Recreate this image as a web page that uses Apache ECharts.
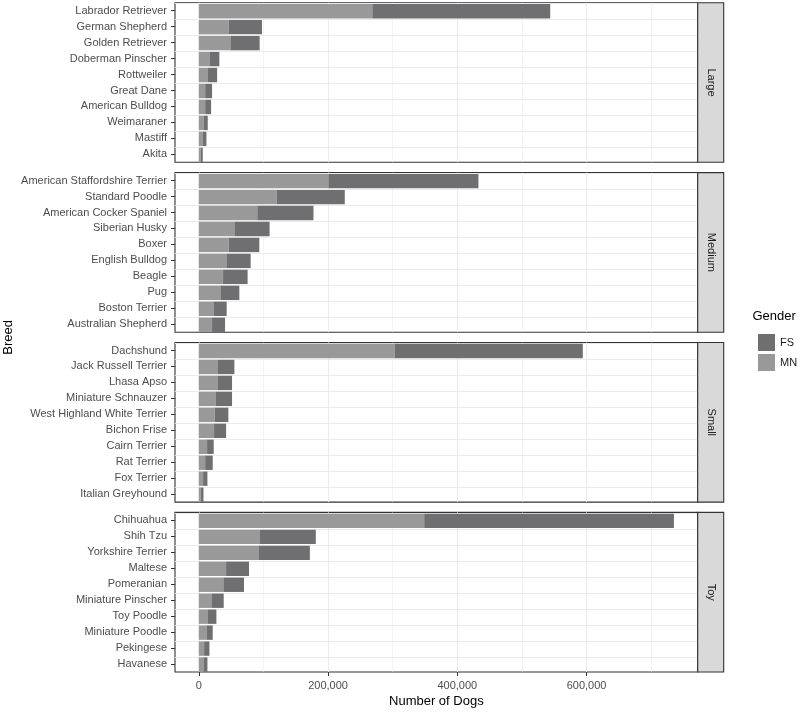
<!DOCTYPE html>
<html>
<head>
<meta charset="utf-8">
<script src="https://cdn.jsdelivr.net/npm/echarts@6/dist/echarts.min.js"></script>
<style>html,body{margin:0;padding:0;background:#fff}#c{width:800px;height:712px}</style>
</head>
<body>
<div id="c"></div>
<script>
const sizes = ['Large', 'Medium', 'Small', 'Toy'];

const largeBreeds = ['Labrador Retriever','German Shepherd','Golden Retriever','Doberman Pinscher','Rottweiler','Great Dane','American Bulldog','Weimaraner','Mastiff','Akita'];
const largeMN = [268500, 46300, 48900, 16500, 13400, 9900, 9900, 7300, 5700, 3000];
const largeFS = [275300, 51500, 45300, 15400, 15000, 10700, 9200, 6600, 6200, 3200];

const mediumBreeds = ['American Staffordshire Terrier','Standard Poodle','American Cocker Spaniel','Siberian Husky','Boxer','English Bulldog','Beagle','Pug','Boston Terrier','Australian Shepherd'];
const mediumMN = [200600, 120400, 90600, 55100, 46300, 42700, 37600, 33500, 22700, 20600];
const mediumFS = [232100, 105500, 86900, 54500, 47400, 37600, 38000, 29300, 20500, 20100];

const smallBreeds = ['Dachshund','Jack Russell Terrier','Lhasa Apso','Miniature Schnauzer','West Highland White Terrier','Bichon Frise','Cairn Terrier','Rat Terrier','Fox Terrier','Italian Greyhound'];
const smallMN = [303000, 28900, 28900, 25800, 24700, 23700, 12900, 9900, 6700, 3100];
const smallFS = [291200, 26200, 22600, 25700, 21100, 18600, 10200, 11700, 6700, 4200];

const toyBreeds = ['Chihuahua','Shih Tzu','Yorkshire Terrier','Maltese','Pomeranian','Miniature Pinscher','Toy Poodle','Miniature Poodle','Pekingese','Havanese'];
const toyMN = [348800, 94700, 93200, 42300, 38100, 19600, 13400, 11900, 8300, 7300];
const toyFS = [386400, 86400, 78700, 35400, 31900, 19000, 13900, 9700, 8200, 6100];

const xTicks = [0, 200000, 400000, 600000];
const xGridValues = [0, 100000, 200000, 300000, 400000, 500000, 600000, 700000];
const xMin = -36760, xMax = 771960;

const panels = [
  {breeds: largeBreeds, mn: largeMN, fs: largeFS},
  {breeds: mediumBreeds, mn: mediumMN, fs: mediumFS},
  {breeds: smallBreeds, mn: smallMN, fs: smallFS},
  {breeds: toyBreeds, mn: toyMN, fs: toyFS}
];

const FONT = '"Liberation Sans", Arial, Helvetica, sans-serif';
const colFS = '#6f6f72', colMN = '#999999';
const gLeft = 175, gRight = 697.7, gTop0 = 2.7, gStep = 169.9, gH = 159.6;

const chart = echarts.init(document.getElementById('c'), null, {renderer: 'canvas'});
const grids = [], xAxes = [], yAxes = [], series = [], graphics = [];

panels.forEach((p, i) => {
  const top = gTop0 + i * gStep;
  const last = i === panels.length - 1;
  grids.push({left: gLeft, width: gRight - gLeft, top: top, height: gH,
    show: true, borderColor: '#333333', borderWidth: 1.1, backgroundColor: '#ffffff'});
  xAxes.push({
    type: 'value', gridIndex: i, min: xMin, max: xMax, position: 'bottom',
    splitLine: {show: false},
    axisLine: {show: false, onZero: false},
    axisTick: {show: last, length: 4, lineStyle: {color: '#333333', width: 1}, customValues: xTicks},
    axisLabel: {show: last, customValues: xTicks, margin: 8, fontSize: 11, color: '#4d4d4d', fontFamily: FONT,
      formatter: v => v.toLocaleString('en-US')},
    name: last ? 'Number of Dogs' : '', nameLocation: 'middle', nameGap: 23,
    nameTextStyle: {fontSize: 13, color: '#000000', fontFamily: FONT}
  });
  yAxes.push({
    type: 'category', gridIndex: i, data: p.breeds, inverse: true, position: 'left',
    axisLine: {show: false, onZero: false},
    axisTick: {show: true, alignWithLabel: true, length: 4, lineStyle: {color: '#333333', width: 1}},
    axisLabel: {margin: 8, fontSize: 11, color: '#4d4d4d', fontFamily: FONT},
    splitLine: {show: false}
  });
  // grid lines (behind bars)
  series.push({
    type: 'bar', name: 'grid' + i, xAxisIndex: i, yAxisIndex: i, data: [], z: 1, silent: true,
    markLine: {
      silent: true, symbol: ['none', 'none'], animation: false, z: 1,
      label: {show: false},
      lineStyle: {color: '#ebebeb', width: 1, type: 'solid'},
      emphasis: {disabled: true},
      data: xGridValues.map(v => ({xAxis: v, lineStyle: {width: (v % 200000 === 0) ? 1.1 : 0.6}}))
        .concat(p.breeds.map(b => ({yAxis: b, lineStyle: {width: 1.1}})))
    }
  });
  series.push({
    type: 'bar', name: 'MN', xAxisIndex: i, yAxisIndex: i, stack: 's' + i, data: p.mn,
    barWidth: '90%', itemStyle: {color: colMN}, z: 3, animation: false
  });
  series.push({
    type: 'bar', name: 'FS', xAxisIndex: i, yAxisIndex: i, stack: 's' + i, data: p.fs,
    barWidth: '90%', itemStyle: {color: colFS}, z: 3, animation: false
  });
  // facet strip
  graphics.push({
    type: 'rect', shape: {x: gRight, y: top, width: 26, height: gH},
    style: {fill: '#d9d9d9', stroke: '#333333', lineWidth: 1.1}, z: 10
  });
  graphics.push({
    type: 'text', x: gRight + 13, y: top + gH / 2, rotation: -Math.PI / 2,
    style: {text: sizes[i], fill: '#1a1a1a', font: '11px ' + FONT, align: 'center', verticalAlign: 'middle'}, z: 11
  });
});

graphics.push({
  type: 'text', x: 8, y: gTop0 + (3 * gStep + gH) / 2, rotation: Math.PI / 2,
  style: {text: 'Breed', fill: '#000000', font: '13px ' + FONT, align: 'center', verticalAlign: 'middle'}
});
graphics.push({
  type: 'text', x: 752.5, y: 316,
  style: {text: 'Gender', fill: '#000000', font: '13px ' + FONT, align: 'left', verticalAlign: 'middle'}
});

chart.setOption({
  animation: false,
  backgroundColor: '#ffffff',
  grid: grids, xAxis: xAxes, yAxis: yAxes, series: series,
  legend: {
    data: ['FS', 'MN'], orient: 'vertical', left: 753, top: 329,
    itemWidth: 17, itemHeight: 17, itemGap: 3, icon: 'rect', selectedMode: false,
    textStyle: {fontSize: 11, color: '#1a1a1a', fontFamily: FONT}
  },
  graphic: graphics
});
</script>
</body>
</html>
